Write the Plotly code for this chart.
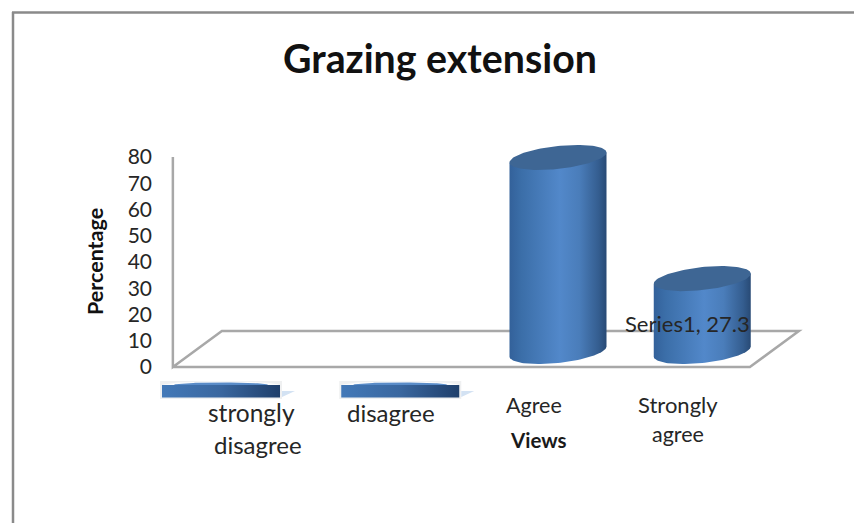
import numpy as np
import plotly.graph_objects as go

# ---- data ----
categories = ["strongly disagree", "disagree", "Agree", "Strongly agree"]
values = [0, 0, 72.7, 27.3]
y_ticks = [0, 10, 20, 30, 40, 50, 60, 70, 80]
title = "Grazing extension"
x_title = "Views"
y_title = "Percentage"
series_name = "Series1"

# ---- layout constants (pixels in the 854x523 page) ----
W, H = 854, 523
L, R, T, B = 153, 850, 100, 470
X0_PX, UNIT_X = 245.0, 144.25      # px of category 0 centre, px per category
Y0_PX, UNIT_Y = 367.0, 2.625       # px of y=0, px per y unit
xr = [(L - X0_PX) / UNIT_X, (R - X0_PX) / UNIT_X]
yr = [(Y0_PX - B) / UNIT_Y, (Y0_PX - T) / UNIT_Y]

def dx(p): return p / UNIT_X
def dy(p): return p / UNIT_Y
def fx(px): return (px - L) / (R - L)
def fy(py): return (B - py) / (B - T)

fig = go.Figure()

BODY = [[0, "#33619a"], [0.12, "#3b6ea8"], [0.52, "#5288ca"], [0.72, "#4a7dba"],
        [0.92, "#345d8f"], [1, "#284a75"]]
TOP = "#3e6694"
DEPTH_X, DEPTH_Y = dx(49), dy(36)

shift_px = [-24, 11, 24.5, 24.5]
half_px = [59, 59, 48.5, 48.5]
base_px = [-24, -24, 15.5, 15.5]
v_scale = 1.017

t = np.linspace(0, 2 * np.pi, 121)

def ellipse(cx, cy, a, b_px, s_px):
    xs = cx + a * np.cos(t)
    ys = cy + dy(s_px) * np.cos(t) + dy(b_px) * np.sin(t)
    return xs, ys

def patch(xs, ys, **kw):
    fig.add_trace(go.Scatter(x=xs, y=ys, mode="lines", fill="toself", line=dict(width=0),
                             hoverinfo="skip", showlegend=False, **kw))

for i, v in enumerate(values):
    cx = i + dx(shift_px[i])
    a = dx(half_px[i])
    base = dy(base_px[i])
    top = base + v * v_scale
    if v > 0:
        b_px, s_px = 11.5, 5.0
        th = np.linspace(2 * np.pi, np.pi, 61)
        bx = cx + a * np.cos(th)
        by = base + dy(s_px) * np.cos(th) + dy(b_px) * np.sin(th)
        xs = np.concatenate([[cx - a, cx + a], bx])
        ys = np.concatenate([[top - dy(s_px), top + dy(s_px)], by])
        patch(xs, ys, fillgradient=dict(type="horizontal", colorscale=BODY))
        ex, ey = ellipse(cx, top, a, b_px, s_px)
        patch(ex, ey, fillcolor=TOP)
    else:
        # flat disc for a zero value
        x0, x1 = cx - a - dx(2), cx + a + dx(2)
        patch([x0, x1, x1, x0, x0], [base + dy(10), base + dy(10), base - dy(8), base - dy(8), base + dy(10)],
              fillcolor="#eff0f1")
        patch([x1, x1 + dx(13), x1, x1], [base, base, base - dy(6), base], fillcolor="#d3e2f3")
        ex, ey = ellipse(cx, base + dy(6), a * 0.98, 3.6, 0)
        patch(ex, ey, fillcolor="#fbfcfd")
        ex, ey = ellipse(cx, base + dy(6), a * 0.8, 2.6, 0)
        patch(ex, ey, fillcolor="#5a8cc8")
        rx = [cx - a, cx + a, cx + a, cx - a, cx - a]
        ry = [base + dy(6), base + dy(6), base - dy(6.5), base - dy(6.5), base + dy(6)]
        patch(rx, ry, fillgradient=dict(type="horizontal",
                                        colorscale=[[0, "#4379b8"], [0.5, "#3a679f"], [1, "#1f3f6b"]]))

# wall and floor, in axis units
n = len(categories)
fl, fr = -0.5, n - 0.5
WALL = "#a8a8a8"
shapes = [
    dict(type="path", layer="below", xref="x", yref="y",
         path=f"M {fl} {y_ticks[-1]} L {fl} 0 L {fl + DEPTH_X} {DEPTH_Y} L {fr + DEPTH_X} {DEPTH_Y} "
              f"L {fr} 0 L {fl} 0",
         line=dict(color=WALL, width=2.5), fillcolor="rgba(0,0,0,0)"),
    dict(type="line", xref="paper", yref="paper", x0=fx(13), y0=fy(523), x1=fx(13), y1=fy(12),
         line=dict(color="#8a8a8a", width=2.5)),
    dict(type="line", xref="paper", yref="paper", x0=fx(12), y0=fy(12.5), x1=fx(854), y1=fy(12.5),
         line=dict(color="#8a8a8a", width=2.5)),
]

FONT = "Lato, 'Open Sans', sans-serif"
INK = "#262626"

def note(text, px, py, size=20, bold=False, angle=0, color=INK):
    return dict(text=f"<b>{text}</b>" if bold else text, xref="paper", yref="paper",
                x=fx(px), y=fy(py), xanchor="center", yanchor="middle", showarrow=False,
                textangle=angle, font=dict(family=FONT, size=size, color=color))

annotations = [
    note(title, 439.5, 57, size=39.3, bold=True, color="#111111"),
    note(y_title, 95, 262, size=21.5, bold=True, angle=-90, color="#111111"),
    note(x_title, 538, 440, size=20.5, bold=True, color="#1a1a1a"),
    note("strongly", 251, 412, size=24.5),
    note("disagree", 258, 444, size=24),
    note(categories[1], 391, 412, size=24),
    note(categories[2], 534, 405, size=21.5),
    note("Strongly", 678, 404, size=22),
    note("agree", 678, 434, size=21.5),
    note(f"{series_name}, {values[3]}", 687.5, 323, size=22),
]

fig.update_layout(
    width=W, height=H, autosize=False,
    margin=dict(l=L, r=W - R, t=T, b=H - B),
    paper_bgcolor="white", plot_bgcolor="white",
    showlegend=False, shapes=shapes, annotations=annotations,
    xaxis=dict(range=xr, visible=False, fixedrange=True),
    yaxis=dict(range=yr, tickmode="array", tickvals=y_ticks, ticktext=[str(v) for v in y_ticks],
               showgrid=False, zeroline=False, showline=False, ticks="", ticklen=0,
               tickfont=dict(family=FONT, size=21, color=INK), fixedrange=True),
)
fig.write_html("out.html", config={"displayModeBar": False, "responsive": False},
               post_script="document.body.style.margin='0';document.documentElement.style.overflow='hidden';")
